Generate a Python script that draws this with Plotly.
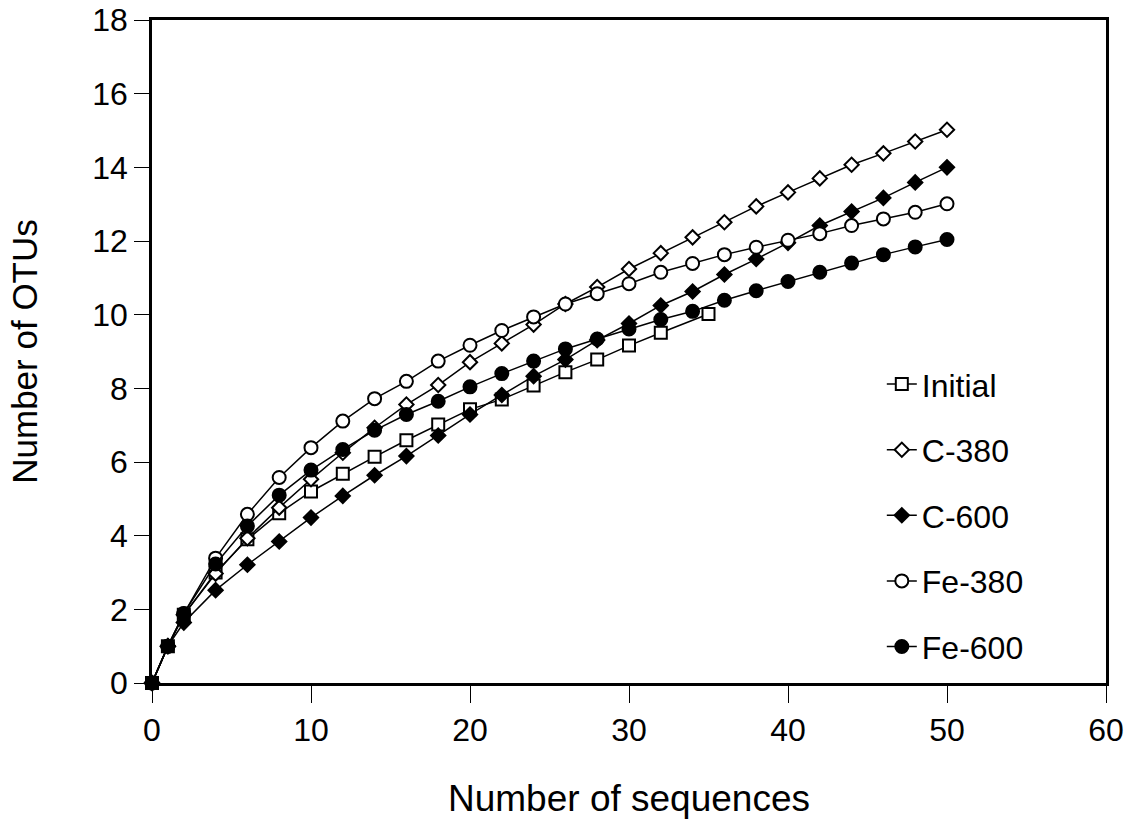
import plotly.graph_objects as go

x_full = [0, 1, 2, 4, 6, 8, 10, 12, 14, 16, 18, 20, 22, 24, 26, 28, 30, 32, 34,
          36, 38, 40, 42, 44, 46, 48, 50]
x_initial = [0, 1, 2, 4, 6, 8, 10, 12, 14, 16, 18, 20, 22, 24, 26, 28, 30, 32, 35]

y_initial = [0, 1.0, 1.85, 3.0, 3.9, 4.61, 5.2, 5.68, 6.14, 6.59, 7.02, 7.43, 7.70,
             8.08, 8.44, 8.78, 9.16, 9.51, 10.02]
y_c380 = [0, 1.0, 1.85, 2.97, 3.93, 4.76, 5.53, 6.25, 6.93, 7.56, 8.09, 8.71, 9.22,
          9.73, 10.29, 10.75, 11.24, 11.67, 12.10, 12.51, 12.94, 13.32, 13.70, 14.07,
          14.38, 14.70, 15.02]
y_c600 = [0, 1.0, 1.64, 2.52, 3.21, 3.84, 4.49, 5.08, 5.64, 6.16, 6.72, 7.29, 7.82,
          8.33, 8.78, 9.31, 9.76, 10.25, 10.63, 11.09, 11.51, 11.95, 12.42, 12.80,
          13.17, 13.59, 14.00]
y_fe380 = [0, 1.0, 1.88, 3.39, 4.58, 5.58, 6.39, 7.11, 7.72, 8.19, 8.74, 9.17, 9.57,
           9.94, 10.29, 10.57, 10.84, 11.15, 11.39, 11.63, 11.83, 12.02, 12.20, 12.42,
           12.60, 12.78, 13.01]
y_fe600 = [0, 1.0, 1.89, 3.23, 4.26, 5.10, 5.78, 6.34, 6.86, 7.29, 7.65, 8.04, 8.40,
           8.74, 9.07, 9.34, 9.61, 9.87, 10.09, 10.39, 10.65, 10.90, 11.15, 11.40,
           11.63, 11.84, 12.04]

x_ticks = [0, 10, 20, 30, 40, 50, 60]
y_ticks = [0, 2, 4, 6, 8, 10, 12, 14, 16, 18]

FONT = "Liberation Sans, Arial, sans-serif"

series = [
    ("Initial", x_initial, y_initial, "square", "white", 12),
    ("C-380", x_full, y_c380, "diamond", "white", 11),
    ("C-600", x_full, y_c600, "diamond", "black", 11),
    ("Fe-380", x_full, y_fe380, "circle", "white", 13),
    ("Fe-600", x_full, y_fe600, "circle", "black", 13),
]

fig = go.Figure()
for name, xs, ys, sym, fill, size in series:
    fig.add_trace(go.Scatter(
        x=xs, y=ys, name=name, mode="lines+markers",
        line=dict(color="black", width=1.5),
        marker=dict(symbol=sym, size=size, color=fill,
                    line=dict(color="black", width=2)),
        cliponaxis=False, legendgroup=name,
    ))

fig.update_layout(
    width=1134, height=825,
    paper_bgcolor="white", plot_bgcolor="white",
    margin=dict(l=152, r=28, t=20, b=142, autoexpand=False),
    font=dict(family=FONT, size=32, color="black"),
    showlegend=True,
    legend=dict(x=0.765, y=0.492, xanchor="left", yanchor="top",
                bgcolor="rgba(0,0,0,0)", font=dict(size=32),
                tracegroupgap=21, itemwidth=30),
)
fig.update_xaxes(
    range=[0, 60], tickvals=x_ticks, ticktext=[str(v) for v in x_ticks],
    showgrid=False, zeroline=False,
    showline=True, linecolor="black", linewidth=2.5, mirror=True,
    ticks="outside", ticklen=17, tickwidth=1, tickcolor="black",
    tickfont=dict(size=32), ticklabeloverflow="allow",
    title=dict(text="Number of sequences", font=dict(size=37), standoff=38),
    automargin=False,
)
fig.update_yaxes(
    range=[0, 18], tickvals=y_ticks, ticktext=[str(v) for v in y_ticks],
    showgrid=False, zeroline=False,
    showline=True, linecolor="black", linewidth=2.5, mirror=True,
    ticks="outside", ticklen=15, tickwidth=1, tickcolor="black",
    tickfont=dict(size=32), ticklabeloverflow="allow",
    title=dict(text="Number of OTUs", font=dict(size=35), standoff=45),
    automargin=False,
)

fig.write_html("out.html", config={"displayModeBar": False},
               post_script="document.body.style.margin='0';")
